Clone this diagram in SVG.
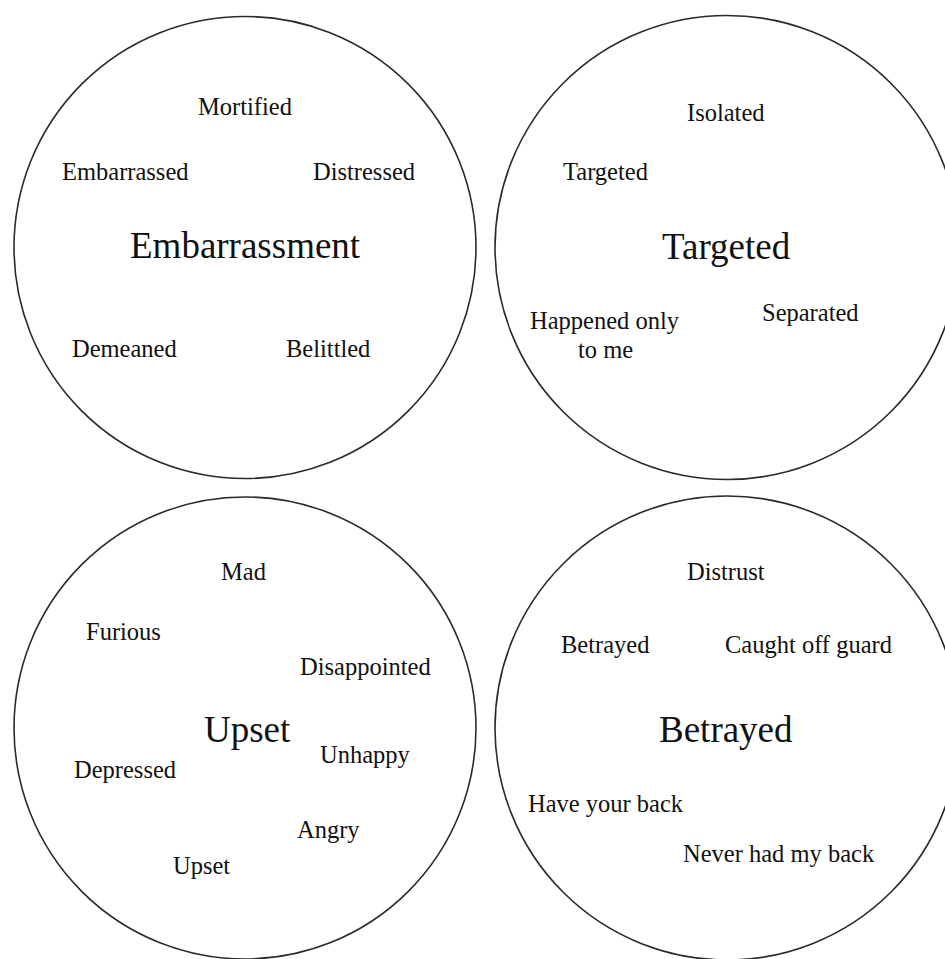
<svg xmlns="http://www.w3.org/2000/svg" width="945" height="959" viewBox="0 0 945 959">
<style>
.c{fill:none;stroke:#2a2a2a;stroke-width:1.6}
text{font-family:"Liberation Serif","Times New Roman",serif;fill:#111}
.s{font-size:24.5px}
.b{font-size:37px}
</style>
<rect width="945" height="959" fill="#fff"/>
<g id="embarrassment">
<circle class="c" cx="245" cy="247.5" r="231"/>
<text class="s" x="198" y="115">Mortified</text>
<text class="s" x="62" y="180">Embarrassed</text>
<text class="s" x="313" y="180">Distressed</text>
<text class="b" x="130" y="258">Embarrassment</text>
<text class="s" x="72" y="357">Demeaned</text>
<text class="s" x="286" y="357">Belittled</text>
</g>
<g id="targeted">
<circle class="c" cx="727" cy="247.5" r="232"/>
<text class="s" x="687" y="121">Isolated</text>
<text class="s" x="563" y="180">Targeted</text>
<text class="b" x="662" y="259">Targeted</text>
<text class="s" x="530" y="329">Happened only</text>
<text class="s" x="578" y="358">to me</text>
<text class="s" x="762" y="321">Separated</text>
</g>
<g id="upset">
<circle class="c" cx="245" cy="728" r="231"/>
<text class="s" x="221" y="580">Mad</text>
<text class="s" x="86" y="640">Furious</text>
<text class="s" x="300" y="675">Disappointed</text>
<text class="b" x="204" y="742">Upset</text>
<text class="s" x="320" y="763">Unhappy</text>
<text class="s" x="74" y="778">Depressed</text>
<text class="s" x="297" y="838">Angry</text>
<text class="s" x="173" y="874">Upset</text>
</g>
<g id="betrayed">
<circle class="c" cx="727" cy="728" r="232"/>
<text class="s" x="687" y="580">Distrust</text>
<text class="s" x="561" y="653">Betrayed</text>
<text class="s" x="725" y="653">Caught off guard</text>
<text class="b" x="659" y="742">Betrayed</text>
<text class="s" x="528" y="812">Have your back</text>
<text class="s" x="683" y="862">Never had my back</text>
</g>
<g id="connectors"></g>
</svg>
